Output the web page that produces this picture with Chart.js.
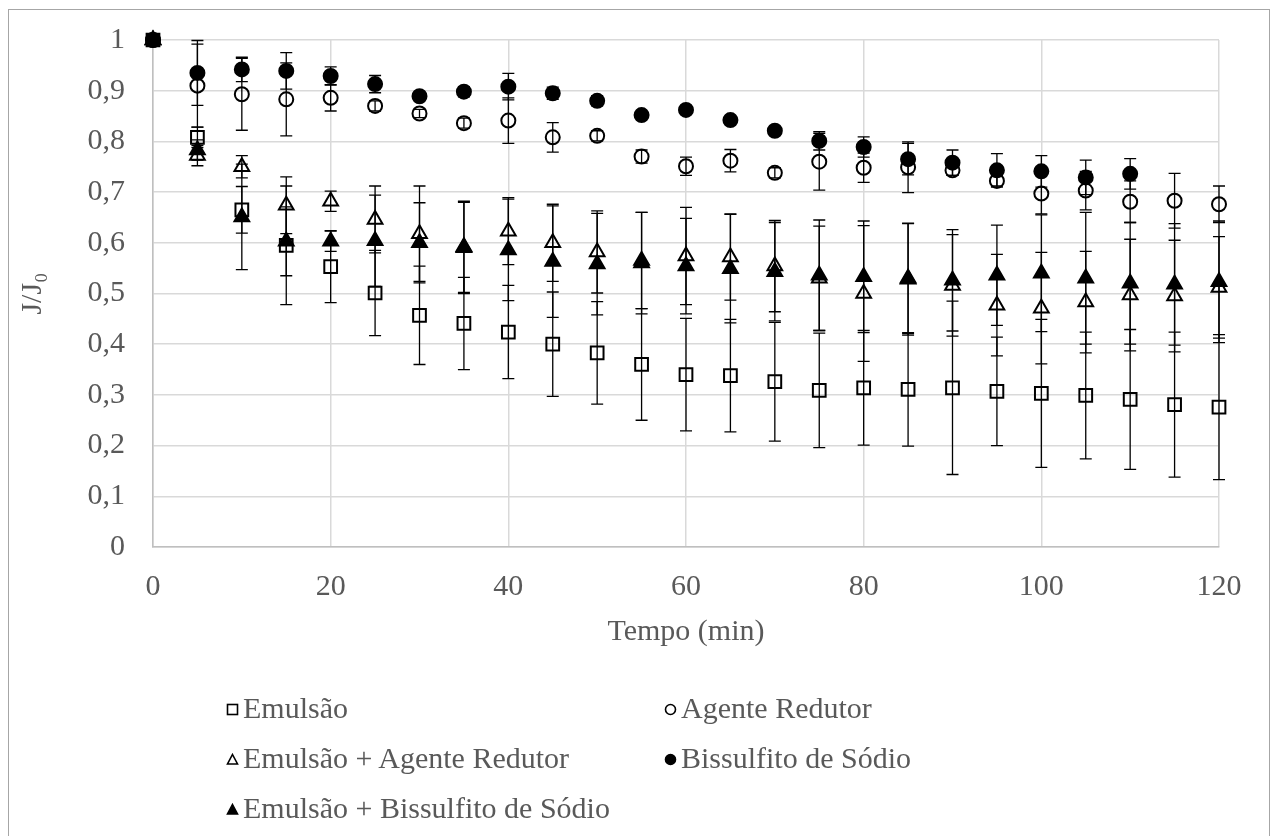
<!DOCTYPE html>
<html lang="pt">
<head>
<meta charset="utf-8">
<title>J/J0 x Tempo</title>
<script src="https://cdn.jsdelivr.net/npm/chart.js@4/dist/chart.umd.min.js"></script>
<style>
  html, body { margin: 0; padding: 0; background: #fff; }
  #wrap { position: relative; width: 1277px; height: 836px; overflow: hidden; }
  #frame { position: absolute; left: 8px; top: 9px; width: 1262px; height: 900px;
           border: 1px solid #a6a6a6; box-sizing: border-box; }
  #chart { position: absolute; left: 0; top: -6px; }
  .leg { position: absolute; font-family: "Liberation Serif", "Times New Roman", serif;
         font-size: 30px; color: #595959; white-space: nowrap; line-height: 36px; }
  .leg svg { vertical-align: middle; margin-right: 4px; position: relative; top: -2px; }
</style>
</head>
<body>
<div id="wrap">
  <div id="frame"></div>
  <canvas id="chart" width="1277" height="842"></canvas>
</div>
<script>
// Tempo (min)
const tempos = [0, 5, 10, 15, 20, 25, 30, 35, 40, 45, 50, 55, 60, 65, 70, 75, 80, 85, 90, 95, 100, 105, 110, 115, 120];

// J/J0 médio e desvio de cada ensaio
const emulsao = [1, 0.808, 0.665, 0.595, 0.553, 0.501, 0.457, 0.441, 0.424, 0.400, 0.383, 0.360, 0.340, 0.338, 0.326, 0.309, 0.314, 0.311, 0.314, 0.307, 0.303, 0.299, 0.291, 0.281, 0.276];
const emulsaoErr = [0, 0.02, 0.046, 0.117, 0.071, 0.084, 0.097, 0.091, 0.092, 0.103, 0.101, 0.11, 0.111, 0.111, 0.117, 0.113, 0.113, 0.112, 0.171, 0.107, 0.146, 0.125, 0.138, 0.143, 0.143];

const agente = [1, 0.910, 0.893, 0.883, 0.886, 0.870, 0.855, 0.836, 0.841, 0.808, 0.811, 0.770, 0.751, 0.762, 0.738, 0.760, 0.748, 0.749, 0.743, 0.722, 0.697, 0.703, 0.681, 0.683, 0.676];
const agenteErr = [0, 0.082, 0.071, 0.072, 0.026, 0.01, 0.008, 0.01, 0.045, 0.029, 0.01, 0.013, 0.018, 0.022, 0.01, 0.056, 0.029, 0.05, 0.01, 0.01, 0.04, 0.038, 0.041, 0.054, 0.036];

const emulsaoAgente = [1, 0.772, 0.750, 0.674, 0.682, 0.646, 0.618, 0.590, 0.623, 0.600, 0.582, 0.565, 0.574, 0.572, 0.554, 0.530, 0.500, 0.528, 0.516, 0.477, 0.471, 0.483, 0.497, 0.495, 0.512];
const emulsaoAgenteErr = [0, 0.02, 0.022, 0.056, 0.02, 0.066, 0.094, 0.09, 0.066, 0.076, 0.081, 0.095, 0.096, 0.085, 0.09, 0.103, 0.134, 0.11, 0.1, 0.1, 0.11, 0.1, 0.11, 0.11, 0.1];

const bissulfito = [1, 0.935, 0.942, 0.939, 0.929, 0.913, 0.889, 0.898, 0.908, 0.895, 0.880, 0.852, 0.862, 0.842, 0.821, 0.801, 0.789, 0.765, 0.758, 0.743, 0.741, 0.729, 0.736];
const bissulfitoErr = [0, 0.064, 0.024, 0.036, 0.018, 0.017, 0.005, 0.01, 0.026, 0.012, 0.01, 0.005, 0.008, 0.005, 0.005, 0.018, 0.02, 0.031, 0.025, 0.033, 0.031, 0.034, 0.03];

const emulsaoBissulfito = [1, 0.783, 0.651, 0.603, 0.603, 0.604, 0.600, 0.592, 0.586, 0.563, 0.558, 0.560, 0.554, 0.549, 0.543, 0.536, 0.533, 0.530, 0.526, 0.536, 0.540, 0.530, 0.520, 0.518, 0.523];
const emulsaoBissulfitoErr = [0, 0.02, 0.104, 0.068, 0.02, 0.09, 0.079, 0.09, 0.1, 0.11, 0.1, 0.1, 0.094, 0.107, 0.097, 0.109, 0.11, 0.109, 0.1, 0.099, 0.115, 0.13, 0.12, 0.12, 0.12];

// Eixos
const xTicks = [0, 20, 40, 60, 80, 100, 120];
const yTicks = [0, 0.1, 0.2, 0.3, 0.4, 0.5, 0.6, 0.7, 0.8, 0.9, 1];

const series = [
  { label: 'Emulsão', y: emulsao, err: emulsaoErr, style: 'rect', fill: false, r: 9 },
  { label: 'Agente Redutor', y: agente, err: agenteErr, style: 'circle', fill: false, r: 7 },
  { label: 'Emulsão + Agente Redutor', y: emulsaoAgente, err: emulsaoAgenteErr, style: 'triangle', fill: false, r: 8.5 },
  { label: 'Bissulfito de Sódio', y: bissulfito, err: bissulfitoErr, style: 'circle', fill: true, r: 7 },
  { label: 'Emulsão + Bissulfito de Sódio', y: emulsaoBissulfito, err: emulsaoBissulfitoErr, style: 'triangle', fill: true, r: 8.5 }
];

const FONT = '"Liberation Serif", "Times New Roman", serif';
const GREY = '#595959';

// Barras de erro desenhadas pela escala do próprio gráfico
const errorBars = {
  id: 'errorBars',
  afterDatasetsDraw(chart) {
    const { ctx, scales: { x, y } } = chart;
    ctx.save();
    ctx.strokeStyle = '#000';
    ctx.lineWidth = 1.3;
    chart.data.datasets.forEach(ds => {
      ds.data.forEach((p, i) => {
        const e = ds.errors[i];
        if (!e) return;
        const px = x.getPixelForValue(p.x);
        const top = y.getPixelForValue(p.y + e);
        const bot = y.getPixelForValue(p.y - e);
        ctx.beginPath();
        ctx.moveTo(px, top); ctx.lineTo(px, bot);
        ctx.moveTo(px - 6, top); ctx.lineTo(px + 6, top);
        ctx.moveTo(px - 6, bot); ctx.lineTo(px + 6, bot);
        ctx.stroke();
      });
    });
    ctx.restore();
  }
};

const fmt = v => {
  const r = Math.round(v * 10) / 10;
  return String(r).replace('.', ',');
};

new Chart(document.getElementById('chart'), {
  type: 'scatter',
  data: {
    datasets: series.map(s => ({
      label: s.label,
      data: s.y.map((v, i) => ({ x: tempos[i], y: v })),
      errors: s.err,
      pointStyle: s.style,
      pointRadius: s.r,
      pointHoverRadius: s.r,
      pointBorderWidth: 2,
      borderColor: '#000',
      backgroundColor: s.fill ? '#000' : 'rgba(0,0,0,0)',
      showLine: false,
      clip: false
    }))
  },
  options: {
    responsive: false,
    animation: false,
    events: [],
    layout: { padding: { left: 10, top: 34, right: 58, bottom: 180 } },
    plugins: { legend: { display: false }, tooltip: { enabled: false } },
    scales: {
      x: {
        type: 'linear', min: 0, max: 120,
        afterBuildTicks: sc => { sc.ticks = xTicks.map(v => ({ value: v })); },
        afterFit: sc => { sc.height = 109; },
        grid: { color: '#d9d9d9', lineWidth: 1.5, drawTicks: false },
        border: { color: '#bfbfbf', width: 1.5 },
        ticks: { color: GREY, font: { family: FONT, size: 30 }, padding: 22, maxRotation: 0 },
        title: { display: true, text: 'Tempo (min)', color: GREY,
                 font: { family: FONT, size: 30 }, padding: { top: 0, bottom: 6 } }
      },
      y: {
        type: 'linear', min: 0, max: 1,
        afterBuildTicks: sc => { sc.ticks = yTicks.map(v => ({ value: v })); },
        afterFit: sc => { sc.width = 143; },
        grid: { color: '#d9d9d9', lineWidth: 1.5, drawTicks: false },
        border: { color: '#bfbfbf', width: 1.5 },
        ticks: { color: GREY, font: { family: FONT, size: 30 }, padding: 28, callback: v => fmt(v) },
        title: { display: true, text: 'J/J₀', color: GREY,
                 font: { family: FONT, size: 30 }, padding: { top: 5, bottom: 0 } }
      }
    }
  },
  plugins: [errorBars]
});

// Legenda em duas colunas
const legendPos = [
  { left: 226, top: 690 }, { left: 664, top: 690 },
  { left: 226, top: 740 }, { left: 664, top: 740 },
  { left: 226, top: 790 }
];
const markerSvg = s => {
  const f = s.fill ? '#000' : 'none';
  let shape;
  if (s.style === 'rect') shape = `<rect x="1.5" y="1.5" width="10" height="10" fill="${f}" stroke="#000" stroke-width="1.6"/>`;
  else if (s.style === 'circle') shape = `<circle cx="6.5" cy="6.5" r="5" fill="${f}" stroke="#000" stroke-width="1.6"/>`;
  else shape = `<polygon points="6.5,1.5 11.5,11 1.5,11" fill="${f}" stroke="#000" stroke-width="1.6"/>`;
  return `<svg width="13" height="13" viewBox="0 0 13 13">${shape}</svg>`;
};
const wrap = document.getElementById('wrap');
series.forEach((s, i) => {
  const d = document.createElement('div');
  d.className = 'leg';
  d.style.left = legendPos[i].left + 'px';
  d.style.top = legendPos[i].top + 'px';
  d.innerHTML = markerSvg(s) + s.label;
  wrap.appendChild(d);
});
</script>
</body>
</html>
